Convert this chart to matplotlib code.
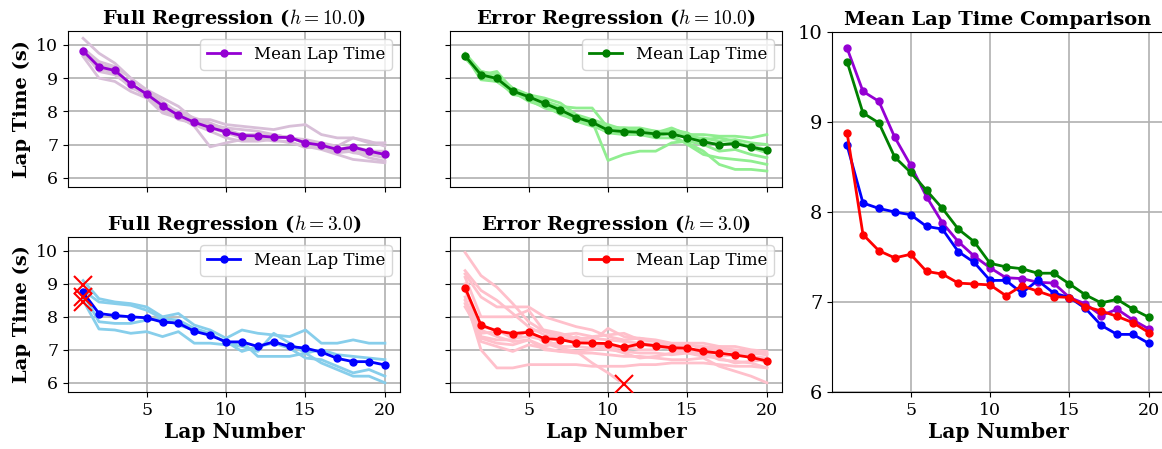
import numpy as np
import matplotlib
matplotlib.use("Agg")
import matplotlib.pyplot as plt

plt.rcParams['font.family'] = 'DejaVu Serif'
plt.rcParams['mathtext.fontset'] = 'cm'

laps = np.arange(1, 21)

# mean lap times per setup
mean_full_10 = [9.82, 9.34, 9.23, 8.83, 8.52, 8.17, 7.88, 7.67, 7.51, 7.38,
                7.27, 7.26, 7.22, 7.21, 7.05, 6.98, 6.85, 6.92, 6.80, 6.70]
mean_err_10 = [9.67, 9.10, 8.99, 8.61, 8.44, 8.24, 8.04, 7.81, 7.67, 7.43,
               7.39, 7.37, 7.32, 7.32, 7.20, 7.08, 6.99, 7.03, 6.92, 6.83]
mean_full_3 = [8.74, 8.10, 8.04, 8.00, 7.97, 7.84, 7.81, 7.56, 7.44, 7.24,
               7.24, 7.10, 7.24, 7.10, 7.05, 6.93, 6.74, 6.64, 6.64, 6.54]
mean_err_3 = [8.88, 7.75, 7.57, 7.49, 7.53, 7.34, 7.31, 7.21, 7.20, 7.19,
              7.07, 7.18, 7.12, 7.06, 7.05, 6.95, 6.90, 6.84, 6.77, 6.66]

# individual runs
runs_full_10 = [
    [10.2, 9.75, 9.45, 9.0, 8.6, 8.3, 7.95, 7.7, 7.6, 7.5, 7.45, 7.4, 7.3, 7.2, 7.15, 7.05, 6.95, 7.2, 7.05, 7.05],
    [9.65, 9.0, 8.9, 8.6, 8.4, 7.95, 7.8, 7.6, 7.4, 7.2, 7.1, 7.1, 7.15, 7.05, 6.95, 6.85, 6.7, 6.55, 6.5, 6.45],
    [9.85, 9.4, 9.3, 8.8, 8.5, 8.2, 7.85, 7.55, 6.93, 7.05, 7.15, 7.2, 7.1, 7.1, 6.9, 6.95, 6.9, 6.75, 6.7, 6.6],
    [9.9, 9.5, 9.35, 9.0, 8.65, 8.4, 8.15, 7.75, 7.75, 7.6, 7.55, 7.5, 7.45, 7.55, 7.6, 7.3, 7.2, 7.2, 7.1, 6.95],
    [9.8, 9.2, 9.1, 8.75, 8.45, 8.1, 7.75, 7.65, 7.5, 7.35, 7.2, 7.15, 7.2, 7.25, 7.0, 7.05, 6.8, 6.85, 6.75, 6.7],
    [9.7, 9.3, 9.2, 8.7, 8.55, 8.2, 8.0, 7.8, 7.65, 7.45, 7.3, 7.3, 7.25, 7.2, 7.05, 6.95, 6.85, 6.95, 6.8, 6.8],
    [9.75, 9.3, 9.15, 8.85, 8.5, 8.0, 7.85, 7.7, 7.55, 7.4, 7.3, 7.25, 7.3, 7.2, 7.1, 6.9, 6.75, 6.8, 6.6, 6.5],
]
runs_err_10 = [
    [9.75, 9.2, 9.1, 8.7, 8.5, 8.3, 8.1, 7.85, 7.7, 6.52, 6.7, 6.8, 6.8, 7.05, 7.1, 7.0, 6.8, 6.85, 6.7, 6.6],
    [9.7, 8.95, 8.9, 8.55, 8.35, 8.1, 7.95, 7.75, 7.6, 7.35, 7.3, 7.3, 7.25, 7.35, 7.3, 7.3, 7.25, 7.25, 7.2, 7.3],
    [9.6, 9.1, 9.2, 8.65, 8.5, 8.3, 8.15, 8.1, 8.1, 7.5, 7.5, 7.5, 7.4, 7.3, 7.0, 6.7, 6.6, 6.55, 6.5, 6.4],
    [9.65, 9.15, 9.0, 8.6, 8.5, 8.4, 8.25, 7.9, 7.75, 7.6, 7.45, 7.4, 7.35, 7.45, 7.35, 7.1, 7.0, 7.05, 6.95, 6.85],
    [9.7, 9.0, 8.9, 8.6, 8.3, 8.15, 7.95, 7.7, 7.55, 7.4, 7.35, 7.3, 7.2, 7.2, 7.05, 6.8, 6.4, 6.25, 6.25, 6.2],
    [9.65, 9.05, 9.0, 8.5, 8.45, 8.2, 8.0, 7.8, 7.65, 7.5, 7.5, 7.45, 7.4, 7.4, 7.2, 7.2, 7.1, 7.15, 7.05, 7.0],
    [9.6, 9.2, 9.1, 8.65, 8.4, 8.2, 7.9, 7.75, 7.7, 7.55, 7.45, 7.3, 7.35, 7.5, 7.3, 7.15, 7.2, 7.1, 6.9, 6.75],
]
runs_full_3 = [
    [9.1, 8.55, 8.45, 8.4, 8.3, 8.0, 8.1, 7.75, 7.6, 7.35, 7.6, 7.5, 7.45, 7.4, 7.6, 7.2, 7.2, 7.3, 7.2, 7.2],
    [8.8, 8.45, 8.4, 8.35, 8.2, 7.95, 7.9, 7.65, 7.5, 7.2, 7.1, 6.95, 7.5, 7.2, 6.9, 6.6, 6.4, 6.2, 6.2, 6.0],
    [8.7, 7.85, 7.8, 7.8, 7.9, 7.95, 7.75, 7.6, 7.45, 7.25, 6.95, 7.1, 7.2, 7.05, 6.75, 6.7, 6.5, 6.3, 6.4, 6.2],
    [8.5, 7.63, 7.6, 7.5, 7.55, 7.4, 7.55, 7.2, 7.2, 7.15, 7.25, 6.8, 6.8, 6.8, 6.9, 7.0, 6.85, 6.8, 6.75, 6.7],
]
runs_err_3 = [
    [9.95, 9.25, 8.9, 8.4, 7.85, 7.55, 7.4, 7.3, 7.2, 7.0, 6.95, 6.9, 6.9, 6.85, 6.9, 6.8, 6.75, 6.6, 6.65, 6.7],
    [9.3, 8.6, 8.3, 8.3, 8.3, 8.0, 7.85, 7.7, 7.6, 7.4, 7.3, 7.35, 7.25, 7.15, 7.2, 7.0, 7.1, 7.1, 7.0, 6.95],
    [9.4, 8.8, 8.5, 8.1, 7.7, 7.45, 7.35, 7.3, 7.25, 7.65, 7.4, 7.35, 7.3, 7.2, 7.2, 7.2, 7.1, 6.9, 6.8, 6.6],
    [8.9, 7.4, 7.3, 7.3, 7.6, 7.2, 7.05, 6.95, 6.6, 6.3, 5.95],
    [8.6, 7.0, 6.45, 6.45, 6.55, 6.55, 6.55, 6.55, 6.5, 6.5, 6.5, 6.55, 6.55, 6.6, 6.6, 6.6, 6.55, 6.5, 6.5, 6.45],
    [8.5, 7.6, 7.4, 7.25, 7.3, 7.0, 6.95, 6.9, 6.9, 6.85, 6.8, 6.8, 6.75, 6.7, 6.7, 6.75, 6.5, 6.35, 6.2, 6.0],
    [9.2, 8.0, 8.0, 8.0, 8.2, 7.55, 7.45, 7.5, 7.4, 7.45, 7.5, 7.3, 7.25, 7.0, 7.0, 6.95, 6.9, 6.8, 6.9, 6.9],
    [8.3, 7.5, 7.55, 7.5, 7.55, 7.6, 7.5, 7.35, 7.35, 7.3, 7.25, 7.2, 7.15, 7.1, 7.15, 7.1, 7.05, 7.0, 6.95, 6.85],
    [8.8, 7.7, 7.6, 7.35, 7.4, 7.3, 7.1, 7.1, 7.05, 7.0, 7.1, 7.15, 7.1, 7.05, 6.9, 6.9, 6.7, 6.65, 6.6, 6.45],
    [9.0, 7.35, 7.2, 7.15, 7.3, 7.1, 7.25, 7.4, 7.2, 7.1, 7.1, 7.0, 7.0, 7.15, 7.05, 6.85, 6.8, 6.85, 6.8, 6.75],
    [8.4, 7.25, 7.1, 6.95, 7.15, 7.05, 6.95, 6.95, 7.0, 7.05, 6.9, 6.75, 6.8, 6.9, 6.95, 6.95, 7.0, 6.95, 6.9, 6.85],
]

# crashes (lap, time)
crash_full_3_laps = [1, 1, 1]
crash_full_3_times = [8.95, 8.6, 8.45]
crash_err_3_laps = [11]
crash_err_3_times = [5.95]

W, H = 1162, 449
fig = plt.figure(figsize=(W / 100, H / 100), dpi=100)


def px_axes(x0, y0, x1, y1):
    return fig.add_axes([x0 / W, 1 - y1 / H, (x1 - x0) / W, (y1 - y0) / H])


ax_tl = px_axes(68, 31, 400, 187)
ax_tm = px_axes(450, 31, 782, 187)
ax_bl = px_axes(68, 237, 400, 392)
ax_bm = px_axes(450, 237, 782, 392)
ax_r = px_axes(832, 32, 1164, 392)

panels = [
    (ax_tl, runs_full_10, mean_full_10, 'thistle', 'darkviolet', r'Full Regression ($h=10.0$)', None),
    (ax_tm, runs_err_10, mean_err_10, 'lightgreen', 'green', r'Error Regression ($h=10.0$)', None),
    (ax_bl, runs_full_3, mean_full_3, 'skyblue', 'blue', r'Full Regression ($h=3.0$)',
     (crash_full_3_laps, crash_full_3_times)),
    (ax_bm, runs_err_3, mean_err_3, 'pink', 'red', r'Error Regression ($h=3.0$)',
     (crash_err_3_laps, crash_err_3_times)),
]

for ax, runs, mean, light, dark, title, crash in panels:
    for r in runs:
        ax.plot(laps[:len(r)], r, color=light, lw=2, zorder=2)
    ax.plot(laps, mean, color=dark, lw=2, marker='o', ms=5, label='Mean Lap Time', zorder=4)
    if crash is not None:
        ax.plot(crash[0], crash[1], 'x', color='red', ms=13, mew=1.5, ls='none', zorder=5)
    ax.set_title(title, fontsize=14, fontweight='bold', pad=5)
    ax.set_xlim(0.05, 20.95)
    ax.set_ylim(5.72, 10.42)
    ax.set_xticks([5, 10, 15, 20])
    ax.set_yticks([6, 7, 8, 9, 10])
    ax.grid(True, color='#b0b0b0', lw=1.2)
    ax.set_axisbelow(True)
    ax.tick_params(labelsize=12.5)
    ax.legend(loc='upper right', fontsize=12, framealpha=0.8, handlelength=2, borderpad=0.4)

for ax in [ax_tl, ax_tm]:
    ax.tick_params(labelbottom=False)
for ax in [ax_tm, ax_bm]:
    ax.tick_params(labelleft=False)
for ax in [ax_tl, ax_bl]:
    ax.set_ylabel('Lap Time (s)', fontsize=14, fontweight='bold')
for ax in [ax_bl, ax_bm]:
    ax.set_xlabel('Lap Number', fontsize=14.5, fontweight='bold', labelpad=2)

# comparison panel
for mean, dark in [(mean_full_10, 'darkviolet'), (mean_err_10, 'green'),
                   (mean_full_3, 'blue'), (mean_err_3, 'red')]:
    ax_r.plot(laps, mean, color=dark, lw=2, marker='o', ms=5)
ax_r.set_title('Mean Lap Time Comparison', fontsize=14, fontweight='bold', pad=5)
ax_r.set_xlim(0.05, 20.95)
ax_r.set_ylim(6, 10)
ax_r.set_xticks([5, 10, 15, 20])
ax_r.set_yticks([6, 7, 8, 9, 10])
ax_r.grid(True, color='#b0b0b0', lw=1.2)
ax_r.set_axisbelow(True)
ax_r.tick_params(axis='x', labelsize=12.5)
ax_r.tick_params(axis='y', labelsize=14)
ax_r.set_xlabel('Lap Number', fontsize=14.5, fontweight='bold', labelpad=2)

fig.savefig('out.png', dpi=100)
